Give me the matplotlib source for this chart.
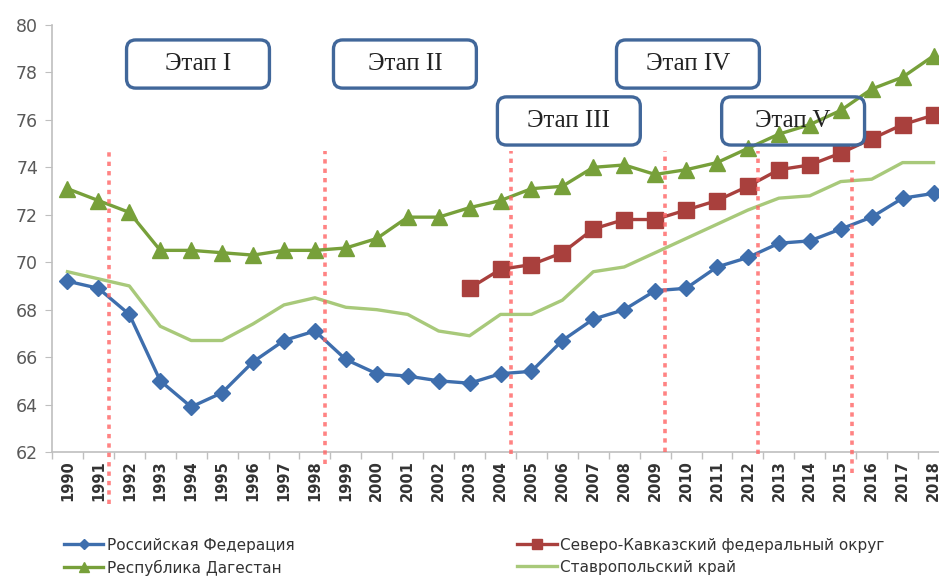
import matplotlib
matplotlib.use("Agg")
import matplotlib.pyplot as plt
from matplotlib.patches import FancyBboxPatch

years = list(range(1990, 2019))
rf = [69.2, 68.9, 67.8, 65.0, 63.9, 64.5, 65.8, 66.7, 67.1, 65.9, 65.3, 65.2, 65.0, 64.9, 65.3,
      65.4, 66.7, 67.6, 68.0, 68.8, 68.9, 69.8, 70.2, 70.8, 70.9, 71.4, 71.9, 72.7, 72.9]
dag = [73.1, 72.6, 72.1, 70.5, 70.5, 70.4, 70.3, 70.5, 70.5, 70.6, 71.0, 71.9, 71.9, 72.3, 72.6,
       73.1, 73.2, 74.0, 74.1, 73.7, 73.9, 74.2, 74.8, 75.4, 75.8, 76.4, 77.3, 77.8, 78.7]
skfo_years = list(range(2003, 2019))
skfo = [68.9, 69.7, 69.9, 70.4, 71.4, 71.8, 71.8, 72.2, 72.6, 73.2, 73.9, 74.1, 74.6, 75.2, 75.8, 76.2]
stav = [69.6, 69.3, 69.0, 67.3, 66.7, 66.7, 67.4, 68.2, 68.5, 68.1, 68.0, 67.8, 67.1, 66.9, 67.8,
        67.8, 68.4, 69.6, 69.8, 70.4, 71.0, 71.6, 72.2, 72.7, 72.8, 73.4, 73.5, 74.2, 74.2]

labels = ["Российская Федерация", "Республика Дагестан",
          "Северо-Кавказский федеральный округ", "Ставропольский край"]

# stage borders (between years) and stage labels
borders = [1991.33, 1998.33, 2004.33, 2009.33, 2012.33, 2015.35]
border_tops = [74.7, 74.7, 74.7, 74.7, 74.7, 73.9]
border_bottoms = [59.8, 61.5, 61.9, 62.0, 61.9, 61.1]
stages = ["Этап I", "Этап II", "Этап III", "Этап IV", "Этап V"]
stage_x = [1992.41, 1999.1, 2004.4, 2008.25, 2011.65]   # left edge of box
stage_y = [77.34, 77.34, 74.94, 77.34, 74.94]           # bottom edge of box

fig = plt.figure(figsize=(9.39, 5.78), dpi=100)
ax = fig.add_axes([52 / 939, 1 - 452 / 578, 897 / 939, 427 / 578])

c_blue = "#3e6ead"
c_red = "#a9403d"
c_green = "#77a03a"
c_light = "#a8c97a"

x0 = years[0]
ax.plot([y - x0 for y in years], stav, color=c_light, lw=2.4, label=labels[3], zorder=3)
ax.plot([y - x0 for y in years], rf, color=c_blue, lw=2.4, marker="D", ms=8, label=labels[0], zorder=4)
ax.plot([y - x0 for y in skfo_years], skfo, color=c_red, lw=2.4, marker="s", ms=11, label=labels[2], zorder=4)
ax.plot([y - x0 for y in years], dag, color=c_green, lw=2.4, marker="^", ms=11, label=labels[1], zorder=4)

for b, top, bot in zip(borders, border_tops, border_bottoms):
    ax.plot([b - x0, b - x0], [bot, top], color="#ff6464", lw=2.6, ls=(0, (1.2, 1.4)),
            alpha=0.8, clip_on=False, zorder=5)

asp = (1 / 23.72) / (1 / 30.93)
for name, sx, sy in zip(stages, stage_x, stage_y):
    w, h = 4.62, 2.03
    box = FancyBboxPatch((sx - x0 - 0.5, sy), w, h,
                         boxstyle="round,pad=0,rounding_size=0.3", mutation_aspect=asp,
                         fc="none", ec="#41679a", lw=2.4, zorder=6, clip_on=False)
    ax.add_patch(box)
    ax.text(sx - x0 - 0.5 + w / 2, sy + h / 2, name, ha="center", va="center",
            fontsize=18, family="Liberation Serif", color="#222222", zorder=7)

ax.set_xlim(-0.5, len(years) - 0.5)
ax.set_ylim(62, 80)
ax.set_yticks(range(62, 81, 2))
ax.set_xticks(range(len(years)))
ax.set_xticklabels([str(y) for y in years], rotation=90, fontsize=10.5, color="#333333",
                   fontweight="bold")
ax.set_xticks([i - 0.5 for i in range(len(years) + 1)], minor=True)
ax.tick_params(axis="x", which="major", length=0, pad=6)
ax.tick_params(axis="x", which="minor", length=5, color="#bfbfbf", width=1)
ax.tick_params(axis="y", length=5, color="#bfbfbf", labelsize=12.5, labelcolor="#595959", pad=5)
for s in ["top", "right"]:
    ax.spines[s].set_visible(False)
for s in ["left", "bottom"]:
    ax.spines[s].set_color("#bfbfbf")
    ax.spines[s].set_linewidth(1.2)

h, l = ax.get_legend_handles_labels()
order = [1, 3, 2, 0]
fig.legend([h[i] for i in order], [l[i] for i in order], ncol=2, loc="upper left",
           bbox_to_anchor=(50 / 939, 1 - 524 / 578), frameon=False,
           prop={"family": ["Liberation Sans Narrow", "DejaVu Sans"], "size": 11},
           handlelength=2.6, handletextpad=0.2, columnspacing=14.6, labelspacing=0.45,
           markerscale=0.6, labelcolor="#333333")

fig.savefig("out.png", dpi=100)
